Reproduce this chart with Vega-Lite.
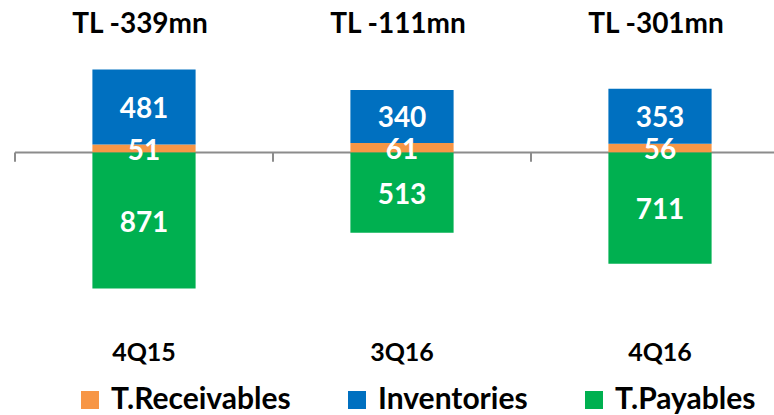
{
  "$schema": "https://vega.github.io/schema/vega-lite/v6.json",
  "width": 759,
  "height": 303,
  "autosize": {"type": "none"},
  "padding": {"left": 15, "top": 37, "right": 0, "bottom": 75},
  "background": "white",
  "config": {
    "view": {"stroke": null},
    "font": "Lato",
    "axis": {"grid": false}
  },
  "datasets": {
    "parts": [
      {"quarter": "4Q15", "item": "T.Receivables", "value": 51},
      {"quarter": "4Q15", "item": "Inventories", "value": 481},
      {"quarter": "4Q15", "item": "T.Payables", "value": -871},
      {"quarter": "3Q16", "item": "T.Receivables", "value": 61},
      {"quarter": "3Q16", "item": "Inventories", "value": 340},
      {"quarter": "3Q16", "item": "T.Payables", "value": -513},
      {"quarter": "4Q16", "item": "T.Receivables", "value": 56},
      {"quarter": "4Q16", "item": "Inventories", "value": 353},
      {"quarter": "4Q16", "item": "T.Payables", "value": -711}
    ],
    "totals": [
      {"quarter": "4Q15", "caption": "TL -339mn"},
      {"quarter": "3Q16", "caption": "TL -111mn"},
      {"quarter": "4Q16", "caption": "TL -301mn"}
    ],
    "baseline": [{"level": 0}]
  },
  "resolve": {"scale": {"x": "independent"}, "axis": {"x": "independent"}},
  "layer": [
    {
      "data": {"name": "totals"},
      "mark": {"type": "rule", "color": "#8c8c8c", "strokeWidth": 2},
      "encoding": {
        "x": {
          "field": "caption",
          "type": "nominal",
          "sort": null,
          "bandPosition": 0,
          "scale": {"type": "band", "range": [0, 774], "paddingInner": 0, "paddingOuter": 0},
          "axis": {
            "orient": "top",
            "title": null,
            "domain": false,
            "ticks": false,
            "tickSize": 0,
            "labelPadding": -1,
            "labelAngle": 0,
            "labelFontSize": 28,
            "labelFontWeight": "bold",
            "labelColor": "black",
            "labelOffset": -4,
            "labelLimit": 300
          }
        },
        "y": {"datum": 0, "type": "quantitative", "axis": null},
        "y2": {"datum": -58}
      }
    },
    {
      "layer": [
        {
          "data": {"name": "baseline"},
          "mark": {"type": "rule", "color": "#8c8c8c", "strokeWidth": 2},
          "encoding": {
            "y": {"field": "level", "type": "quantitative", "axis": null}
          }
        },
        {
          "data": {"name": "parts"},
          "transform": [
            {"stack": "value", "groupby": ["quarter"], "sort": [{"field": "item", "order": "descending"}], "as": ["v0", "v1"]}
          ],
          "mark": {"type": "bar", "width": {"band": 0.4}},
          "encoding": {
            "x": {
              "field": "quarter",
              "type": "nominal",
              "sort": ["4Q15", "3Q16", "4Q16"],
              "scale": {"type": "band", "range": [0, 774], "paddingInner": 0, "paddingOuter": 0},
              "axis": {
                "orient": "bottom",
                "title": null,
                "domain": false,
                "ticks": false,
                "tickSize": 0,
                "labelPadding": 0,
                "labelAngle": 0,
                "labelFontSize": 25,
                "labelFontWeight": "bold",
                "labelColor": "black"
              }
            },
            "y": {
              "field": "v0",
              "type": "quantitative",
              "scale": {"domain": [-1200, 740], "nice": false, "zero": false},
              "axis": null
            },
            "y2": {"field": "v1"},
            "color": {
              "field": "item",
              "type": "nominal",
              "scale": {
                "domain": ["T.Receivables", "Inventories", "T.Payables"],
                "range": ["#f79646", "#0070c0", "#00b050"]
              },
              "legend": {
                "orient": "none",
                "legendX": 60,
                "legendY": 348,
                "direction": "horizontal",
                "title": null,
                "padding": 0,
                "symbolType": "square",
                "symbolSize": 324,
                "symbolStrokeWidth": 0,
                "labelFontSize": 30,
                "labelFontWeight": "bold",
                "labelColor": "black",
                "labelOffset": 6,
                "labelLimit": 300,
                "columnPadding": 51
              }
            }
          }
        },
        {
          "data": {"name": "parts"},
          "transform": [
            {"stack": "value", "groupby": ["quarter"], "sort": [{"field": "item", "order": "descending"}], "as": ["v0", "v1"]},
            {"calculate": "(datum.v0 + datum.v1) / 2", "as": "mid"},
            {"calculate": "abs(datum.value)", "as": "shown"}
          ],
          "mark": {"type": "text", "color": "white", "fontSize": 28, "fontWeight": "bold", "baseline": "middle", "align": "center", "dy": 3},
          "encoding": {
            "x": {"field": "quarter", "type": "nominal", "sort": ["4Q15", "3Q16", "4Q16"]},
            "y": {"field": "mid", "type": "quantitative", "axis": null},
            "text": {"field": "shown", "type": "quantitative", "format": "d"}
          }
        }
      ]
    }
  ]
}
